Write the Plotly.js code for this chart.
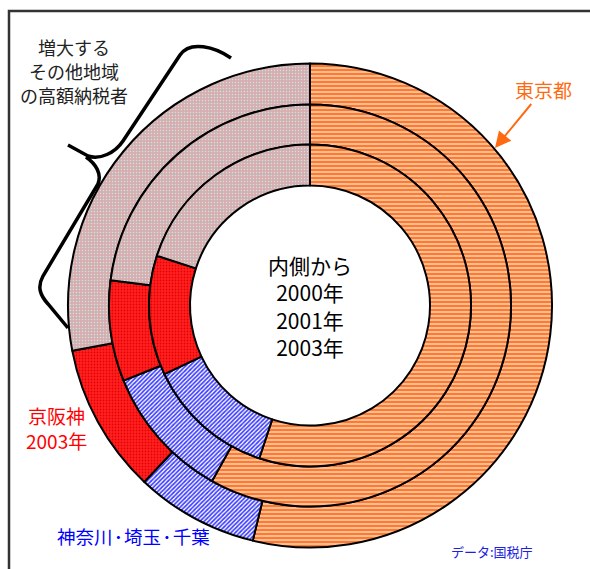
<!DOCTYPE html>
<html>
<head>
<meta charset="utf-8">
<script src="https://cdn.plot.ly/plotly-3.0.1.min.js"></script>
<style>html,body{margin:0;padding:0;background:#fff;}#chart{width:590px;height:569px;}</style>
</head>
<body>
<div id="chart"></div>
<script>
// ---- data (shares, %) ----
const regions = ['東京都', '神奈川\u200a･\u200a埼玉\u200a･\u200a千葉', '京阪神', 'その他地域'];
const years = ['2000年', '2001年', '2003年'];
const share2000 = [55.1, 12.9, 12.0, 20.0];
const share2001 = [58.1, 10.8, 8.1, 23.0];
const share2003 = [53.8, 8.2, 10.0, 28.0];
const noteLines = ['増大する', 'その他地域', 'の高額納税者'];

// ---- layout helpers ----
const W = 590, H = 569;
const cx = 310, cy = 305.5;
const radii = [120, 161, 201, 242];
const px = x => x / W;
const py = y => 1 - y / H;

const patterns = [
  {shape: '-', bgcolor: '#FFBE94', fgcolor: '#FF7A30', size: 4, solidity: 0.5},
  {shape: '/', bgcolor: '#FFFFFF', fgcolor: '#3C3CFF', size: 3, solidity: 0.55},
  {shape: '.', bgcolor: '#FF2222', fgcolor: '#E80000', size: 3, solidity: 0.3},
  {shape: '.', bgcolor: '#D9ADAD', fgcolor: '#BDEBEB', size: 3, solidity: 0.18}
];
const baseColors = ['#FF9A60', '#7070FF', '#FF2020', '#D4B6B6'];

function ring(values, rIn, rOut, name) {
  return {
    type: 'pie',
    name: name,
    labels: regions,
    values: values,
    sort: false,
    direction: 'clockwise',
    rotation: 0,
    hole: rIn / rOut,
    textinfo: 'none',
    hoverinfo: 'label+percent',
    showlegend: false,
    domain: {x: [px(cx - rOut), px(cx + rOut)], y: [py(cy + rOut), py(cy - rOut)]},
    marker: {
      colors: baseColors,
      pattern: {
        shape: patterns.map(p => p.shape),
        bgcolor: patterns.map(p => p.bgcolor),
        fgcolor: patterns.map(p => p.fgcolor),
        size: patterns.map(p => p.size),
        solidity: patterns.map(p => p.solidity)
      },
      line: {color: '#000', width: 2}
    }
  };
}

const data = [
  ring(share2003, radii[2], radii[3], years[2]),
  ring(share2001, radii[1], radii[2], years[1]),
  ring(share2000, radii[0], radii[1], years[0])
];

// brace path in pixel coordinates, converted to paper coords
const braceSegs = [
  ['M', 231, 58], ['C', 215, 47, 190, 40, 180, 55], ['L', 123, 141],
  ['C', 115, 153, 100, 160, 88, 156], ['L', 68, 145],
  ['M', 86, 157], ['C', 96, 164, 102, 174, 98, 184], ['L', 43, 276],
  ['C', 37, 287, 40, 295, 48, 304], ['L', 68, 328]
];
function toPath(segs) {
  return segs.map(s => {
    const out = [s[0]];
    for (let i = 1; i < s.length; i += 2) out.push(px(s[i]).toFixed(5) + ',' + py(s[i + 1]).toFixed(5));
    return out.join(' ');
  }).join(' ');
}

const jp = '"Noto Sans CJK JP", "Noto Sans", sans-serif';
const ann = (x, y, text, size, color, extra) => Object.assign({
  xref: 'paper', yref: 'paper', x: px(x), y: py(y), text: text, showarrow: false,
  xanchor: 'center', yanchor: 'middle', align: 'center',
  font: {family: jp, size: size, color: color}
}, extra || {});

const annotations = [
  ann(310, 305.5, '内側から<br>' + years.join('<br>'), 21, '#000'),
  ann(56, 428, regions[2] + '<br>' + years[2], 19, '#FF0000'),
  ann(133, 536, regions[1], 18.5, '#0000FF'),
  ann(492, 551.5, 'データ:国税庁', 13, '#2020E0'),
  {xref: 'paper', yref: 'paper', x: px(495), y: py(148), text: regions[0],
   showarrow: true, ax: 48.6, ay: -59, arrowhead: 2, arrowsize: 1.6, arrowwidth: 2,
   arrowcolor: '#FF6A10', standoff: 0, font: {family: jp, size: 19, color: '#FF6A10'}}
];
noteLines.forEach((t, i) => annotations.push(ann(74, 46.5 + i * 24.3, t, 18, '#222')));

const layout = {
  width: W, height: H,
  margin: {l: 0, r: 0, t: 0, b: 0},
  paper_bgcolor: '#fff',
  showlegend: false,
  shapes: [
    {type: 'path', xref: 'paper', yref: 'paper', path: toPath([['M', 9, 700], ['L', 9, 11], ['L', 700, 11]]),
     line: {color: '#333', width: 2.5}},
    {type: 'path', xref: 'paper', yref: 'paper', path: toPath(braceSegs),
     line: {color: '#000', width: 3.5}}
  ],
  annotations: annotations
};

Plotly.newPlot('chart', data, layout, {displayModeBar: false, staticPlot: true});
</script>
</body>
</html>
